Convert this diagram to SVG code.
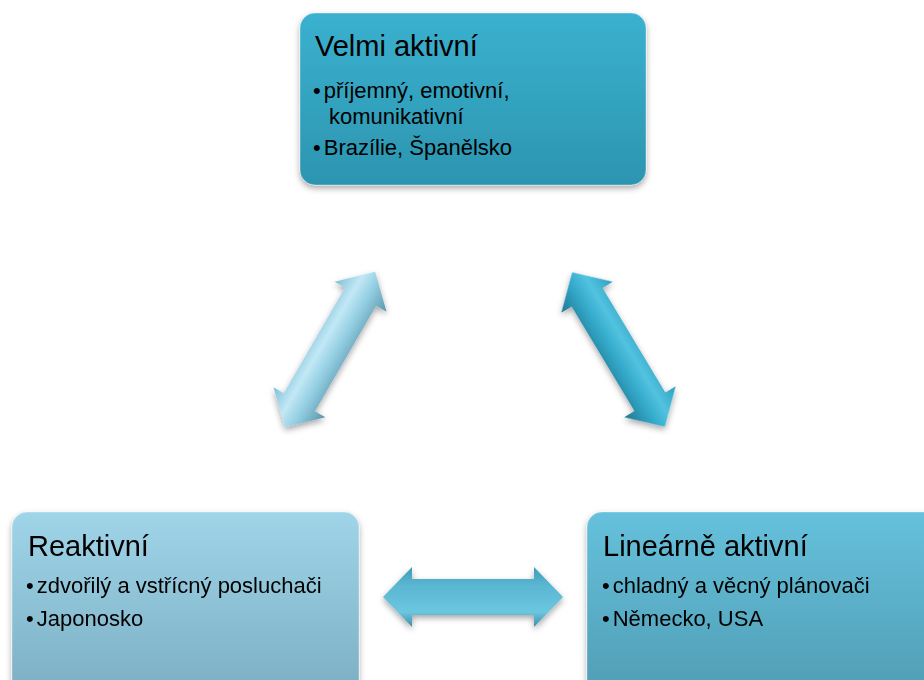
<svg xmlns="http://www.w3.org/2000/svg" width="924" height="680" viewBox="0 0 924 680">
<defs>
<linearGradient id="gTop" x1="0" y1="0" x2="0" y2="1"><stop offset="0" stop-color="#3ab1cf"/><stop offset="1" stop-color="#2c95b0"/></linearGradient>
<linearGradient id="gLeft" x1="0" y1="0" x2="0" y2="1"><stop offset="0" stop-color="#a0d5e9"/><stop offset="1" stop-color="#7aadc1"/></linearGradient>
<linearGradient id="gRight" x1="0" y1="0" x2="0" y2="1"><stop offset="0" stop-color="#66c1dc"/><stop offset="1" stop-color="#4f9cb3"/></linearGradient>
<linearGradient id="aLight" x1="0" y1="0" x2="0" y2="1"><stop offset="0" stop-color="#7ec0d8"/><stop offset="0.35" stop-color="#c2e8f5"/><stop offset="0.6" stop-color="#94cfe3"/><stop offset="1" stop-color="#5c95ab"/></linearGradient>
<linearGradient id="aDark" x1="0" y1="0" x2="0" y2="1"><stop offset="0" stop-color="#2f9fbd"/><stop offset="0.35" stop-color="#52c3e0"/><stop offset="0.6" stop-color="#35aacb"/><stop offset="1" stop-color="#1e7891"/></linearGradient>
<linearGradient id="aMid" x1="0" y1="0" x2="0" y2="1"><stop offset="0" stop-color="#3f9cb8"/><stop offset="0.3" stop-color="#5ab6d1"/><stop offset="0.75" stop-color="#6cc6e0"/><stop offset="1" stop-color="#3d8ea7"/></linearGradient>
<filter id="sh" x="-10%" y="-10%" width="120%" height="130%"><feDropShadow dx="0" dy="3" stdDeviation="3" flood-color="#000" flood-opacity="0.35"/></filter>
<path id="dbl" d="M-90,0 L-61,-30 L-61,-18 L61,-18 L61,-30 L90,0 L61,30 L61,18 L-61,18 L-61,30 Z"/>
<style>
.box{stroke:#ffffff;stroke-opacity:0.35;stroke-width:1;filter:url(#sh)}
.t{font-family:"Liberation Sans","Open Sans",Arial,sans-serif;fill:#000}
.h{font-size:29px}
.b{font-size:22px}
</style>
</defs>
<g id="connectors" filter="url(#sh)">
<use href="#dbl" fill="url(#aLight)" transform="translate(330,349.5) rotate(-59.9)"/>
<use href="#dbl" fill="url(#aDark)" transform="translate(618.5,349.5) rotate(59)"/>
<use href="#dbl" fill="url(#aMid)" transform="translate(473,597)"/>
</g>
<g id="node-velmi">
<rect class="box" x="300" y="13" width="346" height="172" rx="15" fill="url(#gTop)"/>
<text class="t h" x="315" y="56">Velmi aktivní</text>
<text class="t b" x="313" y="98">•<tspan dx="3">příjemný, emotivní,</tspan></text>
<text class="t b" x="329" y="124">komunikativní</text>
<text class="t b" x="313" y="155">•<tspan dx="3">Brazílie, Španělsko</tspan></text>
</g>
<g id="node-reaktivni">
<rect class="box" x="12" y="512" width="347" height="190" rx="15" fill="url(#gLeft)"/>
<text class="t h" x="28" y="556">Reaktivní</text>
<text class="t b" x="26" y="593">•<tspan dx="3">zdvořilý a vstřícný posluchači</tspan></text>
<text class="t b" x="26" y="626">•<tspan dx="3">Japonosko</tspan></text>
</g>
<g id="node-linearne">
<rect class="box" x="587" y="512" width="360" height="190" rx="15" fill="url(#gRight)"/>
<text class="t h" x="603" y="556">Lineárně aktivní</text>
<text class="t b" x="602" y="593">•<tspan dx="3">chladný a věcný plánovači</tspan></text>
<text class="t b" x="602" y="626">•<tspan dx="3">Německo, USA</tspan></text>
</g>
</svg>
